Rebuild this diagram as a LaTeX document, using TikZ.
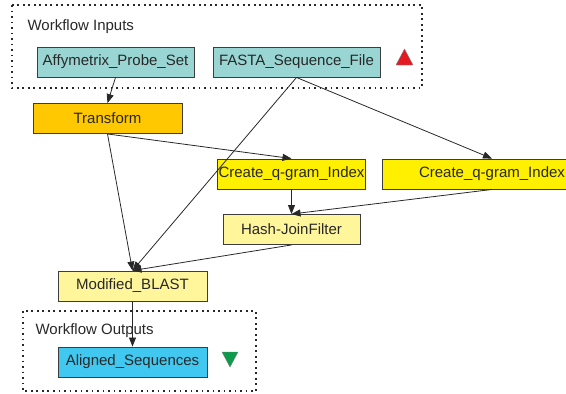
\documentclass[tikz,border=0pt]{standalone}
\usepackage{fontspec}
\setmainfont{Liberation Sans}
\usetikzlibrary{arrows.meta,positioning}
\definecolor{inputcol}{RGB}{153,214,211}
\definecolor{transcol}{RGB}{255,200,0}
\definecolor{qgramcol}{RGB}{255,240,0}
\definecolor{procol}{RGB}{255,245,155}
\definecolor{outputcol}{RGB}{64,200,240}
\definecolor{edgecol}{RGB}{40,40,40}
\definecolor{inmark}{RGB}{228,26,34}
\definecolor{outmark}{RGB}{10,155,75}
\tikzset{
  proc/.style={draw=edgecol!90,line width=0.9pt,minimum height=30pt,inner sep=1pt,
    font=\fontsize{15}{17}\selectfont,text=edgecol},
  portbox/.style={draw=edgecol,dash pattern=on 1.6pt off 3.9pt,line width=1.6pt},
  flow/.style={draw=edgecol,line width=0.8pt,-{Triangle[length=9pt,width=7pt]}}
}

\begin{document}
\begin{tikzpicture}[x=1pt,y=-1pt]
\useasboundingbox (0,0) rectangle (566,394);
\draw[portbox] (12,5) rectangle (422,88);
\draw[portbox] (23,311) rectangle (256,391);
\node[anchor=west,font=\fontsize{15}{17}\selectfont,text=edgecol] (inlabel) at (24,27) {Workflow Inputs};
\node[anchor=west,font=\fontsize{15}{17}\selectfont,text=edgecol] (outlabel) at (32,331) {Workflow Outputs};
\node[proc,fill=inputcol,minimum width=157pt] (probe) at (115.5,62) {Affymetrix\_Probe\_Set};
\node[proc,fill=inputcol,minimum width=167pt] (fasta) at (296.5,62) {FASTA\_Sequence\_File};
\node[proc,fill=transcol,minimum width=149pt] (transform) at (107.5,118.5) {Transform};
\node[proc,fill=qgramcol,minimum width=145pt] (qgramA) at (291.5,174) {Create\_q-gram\_Index};
\node[proc,fill=qgramcol,minimum width=220pt] (qgramB) at (492,174) {Create\_q-gram\_Index};
\node[proc,fill=procol,minimum width=137pt] (hashjoin) at (291.5,229.5) {Hash-JoinFilter};
\node[proc,fill=procol,minimum width=149pt] (blast) at (132.5,286) {Modified\_BLAST};
\node[proc,fill=outputcol,minimum width=149pt] (aligned) at (132.5,362) {Aligned\_Sequences};
\fill[inmark,draw=edgecol!60,line width=0.4pt] (396,65) -- (413,65) -- (404.5,49) -- cycle;
\fill[outmark,draw=edgecol!60,line width=0.4pt] (222,352) -- (238,352) -- (230,367) -- cycle;
\draw[flow] (probe.south) -- (transform.north);
\draw[flow] (transform.south) -- (qgramA.north);
\draw[flow] (transform.south) -- (blast.north);
\draw[flow] (fasta.south) -- (qgramB.north);
\draw[flow] (fasta.south) -- (blast.north);
\draw[flow] (qgramA.south) -- (hashjoin.north);
\draw[flow] (qgramB.south) -- (hashjoin.north);
\draw[flow] (hashjoin.south) -- (blast.north);
\draw[flow] (blast.south) -- (aligned.north);
\end{tikzpicture}
\end{document}
